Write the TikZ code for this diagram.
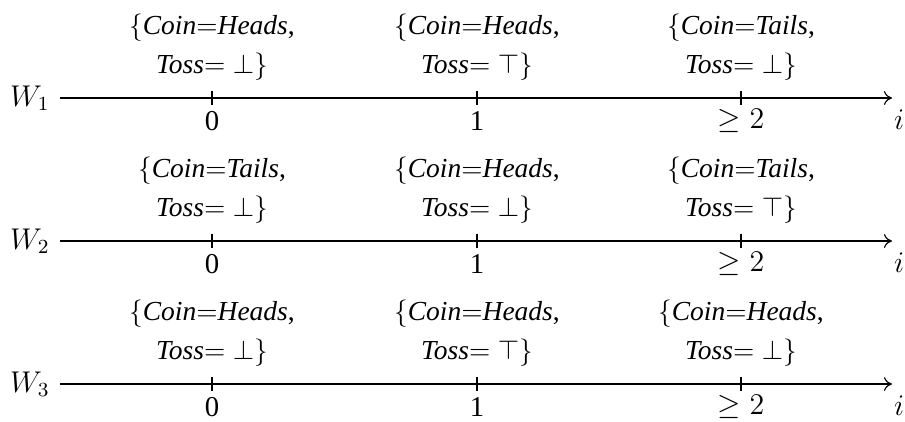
\documentclass[tikz,border=0pt]{standalone}
\usepackage[no-math]{fontspec}
\setmainfont{Liberation Serif}
\usetikzlibrary{arrows.meta}
\newcommand{\stlab}[2]{$\{$\textit{Coin}$=$\textit{#1},\\[2.5pt]\textit{Toss}$=#2\}$}
\begin{document}
\begin{tikzpicture}[x=0.4pt,y=-0.4pt,
  axis/.style={line width=0.45pt,-{To[length=3.2pt,width=5.5pt]}},
  tickmark/.style={line width=0.45pt},
  statelab/.style={align=center,inner sep=0pt,font=\fontsize{11}{13.2}\selectfont},
  numlab/.style={inner sep=0pt,font=\fontsize{11.5}{13.8}\selectfont},
  worldlab/.style={inner sep=0pt,font=\fontsize{11.5}{13.8}\selectfont}]
\useasboundingbox (0,0) rectangle (905,421);
\foreach \r/\yy/\la/\lb/\lc in {
  1/98/{\stlab{Heads}{\bot}}/{\stlab{Heads}{\top}}/{\stlab{Tails}{\bot}},
  2/241/{\stlab{Tails}{\bot}}/{\stlab{Heads}{\bot}}/{\stlab{Tails}{\top}},
  3/384/{\stlab{Heads}{\bot}}/{\stlab{Heads}{\top}}/{\stlab{Heads}{\bot}}}{
  \node[worldlab] (w\r) at (30,\yy) {$W_\r$};
  \coordinate (s\r) at (60,\yy);
  \coordinate (e\r) at (892,\yy);
  \draw[axis] (s\r) -- (e\r);
  \node[numlab] (i\r) at (899,\yy+22) {$i$};
  \foreach \c/\xx/\num/\lab in {0/212/0/\la, 1/477/1/\lb, 2/741/{$\geq 2$}/\lc}{
    \coordinate (k\r\c) at (\xx,\yy);
    \draw[tickmark] ([yshift=7*0.4pt]k\r\c) -- ([yshift=-7*0.4pt]k\r\c);
    \node[numlab] (n\r\c) at (\xx,\yy+23) {\num};
    \node[statelab] (l\r\c) at (\xx,\yy-51) {\lab};
  }
}
\end{tikzpicture}
\end{document}
